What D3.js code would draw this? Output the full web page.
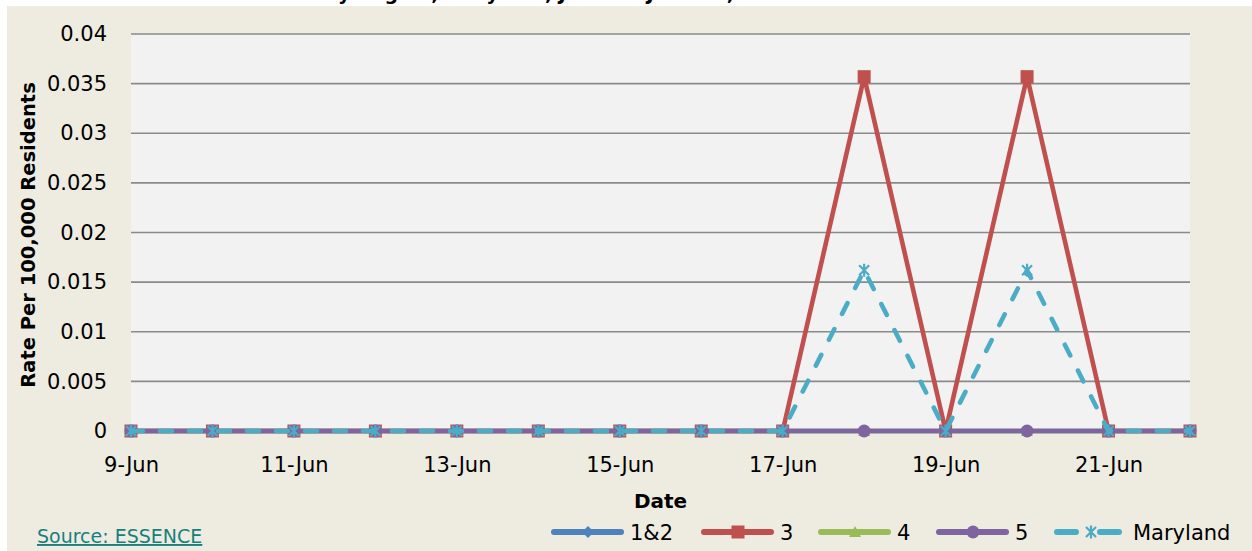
<!DOCTYPE html>
<html>
<head>
<meta charset="utf-8">
<script src="https://cdn.jsdelivr.net/npm/d3@7"></script>
<style>
  body { margin: 0; background: #fff; }
  svg { display: block; font-family: "DejaVu Sans", Verdana, sans-serif; }
</style>
</head>
<body>
<svg id="chart"></svg>
<script>
// chart data
const dates = ["9-Jun", "10-Jun", "11-Jun", "12-Jun", "13-Jun", "14-Jun", "15-Jun",
               "16-Jun", "17-Jun", "18-Jun", "19-Jun", "20-Jun", "21-Jun", "22-Jun"];
const region12 = [0, 0, 0, 0, 0, 0, 0, 0, 0, 0, 0, 0, 0, 0];
const region3  = [0, 0, 0, 0, 0, 0, 0, 0, 0, 0.0357, 0, 0.0357, 0, 0];
const region4  = [0, 0, 0, 0, 0, 0, 0, 0, 0, 0, 0, 0, 0, 0];
const region5  = [0, 0, 0, 0, 0, 0, 0, 0, 0, 0, 0, 0, 0, 0];
const maryland = [0, 0, 0, 0, 0, 0, 0, 0, 0, 0.0162, 0, 0.0162, 0, 0];
const yTicks = [0, 0.005, 0.01, 0.015, 0.02, 0.025, 0.03, 0.035, 0.04];
const xTickLabels = ["9-Jun", "11-Jun", "13-Jun", "15-Jun", "17-Jun", "19-Jun", "21-Jun"];

const series = [
  { name: "1&2", values: region12, color: "#4f81bd", marker: "diamond" },
  { name: "3", values: region3, color: "#c0504d", marker: "square" },
  { name: "4", values: region4, color: "#9bbb59", marker: "triangle" },
  { name: "5", values: region5, color: "#8064a2", marker: "circle" },
  { name: "Maryland", values: maryland, color: "#4bacc6", marker: "star", dashed: true }
];

const width = 1252, height = 551;
const plot = { left: 131, right: 1190, top: 34, bottom: 431 };

const svg = d3.select("#chart").attr("width", width).attr("height", height);

// background panel
svg.append("rect").attr("x", 7).attr("y", 6)
  .attr("width", width - 7).attr("height", height - 6)
  .attr("fill", "#eeece1");

// title, mostly cut off at the top edge like the source image
const title = svg.append("text")
  .attr("x", 0).attr("y", 0)
  .attr("font-weight", "bold").attr("font-size", 19)
  .text("Heat-Related Illness ED Visits by Region, Maryland, June 9 - June 22, 2023");
const yIdx = title.text().indexOf("by ") + 1;
const shift = 338 - title.node().getStartPositionOfChar(yIdx).x;
title.attr("x", shift);

const x = d3.scalePoint().domain(dates).range([plot.left, plot.right]);
const y = d3.scaleLinear().domain([0, 0.04]).range([plot.bottom, plot.top]);

// plot area
svg.append("rect")
  .attr("x", plot.left).attr("y", plot.top)
  .attr("width", plot.right - plot.left).attr("height", plot.bottom - plot.top)
  .attr("fill", "#f2f2f2");

// gridlines
svg.append("g")
  .selectAll("line")
  .data(yTicks.filter(d => d > 0))
  .join("line")
  .attr("x1", plot.left).attr("x2", plot.right)
  .attr("y1", d => y(d)).attr("y2", d => y(d))
  .attr("stroke", "#8a8a8a").attr("stroke-width", 1.6);

// Y axis
const yAxis = svg.append("g")
  .attr("transform", `translate(${plot.left},0)`)
  .call(d3.axisLeft(y).tickValues(yTicks).tickFormat(d => d3.format("")(+d.toFixed(3))).tickSize(0).tickPadding(24));
yAxis.select(".domain").remove();
yAxis.selectAll("text").attr("font-size", 21).attr("font-family", "DejaVu Sans").attr("fill", "#000");

// X axis
const xAxis = svg.append("g")
  .attr("transform", `translate(0,${plot.bottom})`)
  .call(d3.axisBottom(x).tickValues(xTickLabels).tickSize(0).tickPadding(26));
xAxis.select(".domain").remove();
xAxis.selectAll("text").attr("font-size", 21).attr("font-family", "DejaVu Sans").attr("fill", "#000");

// axis titles
svg.append("text")
  .attr("x", (plot.left + plot.right) / 2).attr("y", 508)
  .attr("text-anchor", "middle").attr("font-weight", "bold").attr("font-size", 20)
  .text("Date");

svg.append("text")
  .attr("transform", "translate(35, 235) rotate(-90)")
  .attr("text-anchor", "middle").attr("font-weight", "bold").attr("font-size", 19.5)
  .text("Rate Per 100,000 Residents");

// markers
function drawMarker(g, type, color) {
  if (type === "diamond") {
    g.append("path").attr("d", "M0,-6L6,0L0,6L-6,0Z").attr("fill", color);
  } else if (type === "square") {
    g.append("rect").attr("x", -6.5).attr("y", -6.5).attr("width", 13).attr("height", 13).attr("fill", color);
  } else if (type === "triangle") {
    g.append("path").attr("d", "M0,-6L6,5L-6,5Z").attr("fill", color);
  } else if (type === "circle") {
    g.append("circle").attr("r", 6.5).attr("fill", color);
  } else if (type === "star") {
    g.append("path").attr("d", "M-5,-5L5,5M-5,5L5,-5M0,-6.5L0,6.5")
      .attr("stroke", color).attr("stroke-width", 2.2).attr("fill", "none");
  }
}

const line = d3.line().x((d, i) => x(dates[i])).y(d => y(d));

series.forEach(s => {
  const g = svg.append("g");
  g.append("path")
    .attr("d", line(s.values))
    .attr("fill", "none")
    .attr("stroke", s.color)
    .attr("stroke-width", 4.6)
    .attr("stroke-linecap", s.dashed ? "round" : "butt")
    .attr("stroke-linejoin", "round")
    .attr("stroke-dasharray", s.dashed ? "12,17" : null);
  s.values.forEach((v, i) => {
    drawMarker(g.append("g").attr("transform", `translate(${x(dates[i])},${y(v)})`), s.marker, s.color);
  });
});

// legend
const legendLineStart = [552, 702, 819, 937, 1055];
const legendY = 532;
series.forEach((s, i) => {
  const g = svg.append("g").attr("transform", `translate(${legendLineStart[i]},${legendY})`);
  g.append("line")
    .attr("x1", 2).attr("x2", 69)
    .attr("stroke", s.color).attr("stroke-width", 6).attr("stroke-linecap", "round")
    .attr("stroke-dasharray", s.dashed ? "19,24" : null);
  drawMarker(g.append("g").attr("transform", "translate(36,0)"), s.marker, s.color);
  g.append("text")
    .attr("x", 78).attr("y", 8)
    .attr("font-size", 21)
    .text(s.name);
});

// source link
svg.append("text")
  .attr("x", 37).attr("y", 543)
  .attr("font-size", 19).attr("fill", "#17807e")
  .attr("text-decoration", "underline")
  .text("Source: ESSENCE");
</script>
</body>
</html>
